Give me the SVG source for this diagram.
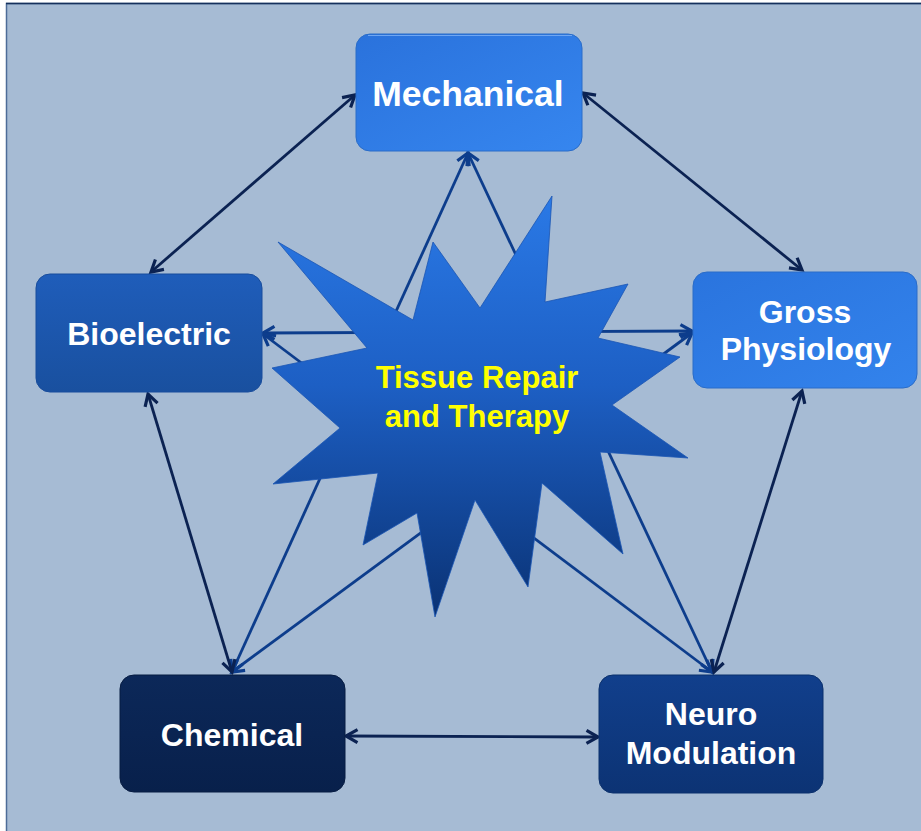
<svg xmlns="http://www.w3.org/2000/svg" width="921" height="831" viewBox="0 0 921 831">
<defs>
<style>
.lbl{font-family:"Liberation Sans",Arial,Helvetica,sans-serif;font-weight:bold;fill:#ffffff;text-anchor:middle;font-size:32px;}
.big{font-size:35.5px;}
.star-lbl{font-family:"Liberation Sans",Arial,Helvetica,sans-serif;font-weight:bold;fill:#ffff00;text-anchor:middle;font-size:31px;}
.outer{stroke:#0b2252;stroke-width:2.8;fill:none;marker-start:url(#arrD);marker-end:url(#arrD);}
.inner{stroke:#0d3d8c;stroke-width:2.8;fill:none;marker-start:url(#arrB);marker-end:url(#arrB);}
.box{stroke-width:1;}
</style>
<marker id="arrD" markerUnits="userSpaceOnUse" markerWidth="18" markerHeight="18" viewBox="-14 -9 18 18" refX="0" refY="0" orient="auto-start-reverse">
<path d="M-11.5,-6.5 L0,0 L-11.5,6.5" fill="none" stroke="#0b2252" stroke-width="3.2" stroke-linejoin="miter"/>
</marker>
<marker id="arrB" markerUnits="userSpaceOnUse" markerWidth="18" markerHeight="18" viewBox="-14 -9 18 18" refX="0" refY="0" orient="auto-start-reverse">
<path d="M-11.5,-6.5 L0,0 L-11.5,6.5" fill="none" stroke="#0d3d8c" stroke-width="3.2" stroke-linejoin="miter"/>
</marker>
<linearGradient id="gMech" x1="0" y1="0" x2="1" y2="1">
<stop offset="0" stop-color="#2a72dc"/>
<stop offset="1" stop-color="#3686ef"/>
</linearGradient>
<linearGradient id="gGross" x1="0" y1="0" x2="1" y2="1">
<stop offset="0" stop-color="#2a74de"/>
<stop offset="1" stop-color="#3383ec"/>
</linearGradient>
<linearGradient id="gBio" x1="0" y1="0" x2="0" y2="1">
<stop offset="0" stop-color="#1f5dba"/>
<stop offset="1" stop-color="#19509f"/>
</linearGradient>
<linearGradient id="gChem" x1="0" y1="0" x2="0" y2="1">
<stop offset="0" stop-color="#0c2859"/>
<stop offset="1" stop-color="#08204b"/>
</linearGradient>
<linearGradient id="gNeuro" x1="0" y1="0" x2="0" y2="1">
<stop offset="0" stop-color="#113f8c"/>
<stop offset="1" stop-color="#0c3374"/>
</linearGradient>
<linearGradient id="gStar" gradientUnits="userSpaceOnUse" x1="0" y1="196" x2="0" y2="617">
<stop offset="0" stop-color="#2a79e6"/>
<stop offset="0.45" stop-color="#1d5fc4"/>
<stop offset="1" stop-color="#0a3274"/>
</linearGradient>
</defs>

<rect x="0" y="0" width="921" height="831" fill="#ffffff"/>
<rect id="frame" x="6.5" y="3.5" width="930" height="840" fill="#a6bbd4" stroke="#4d6c98" stroke-width="1.5"/>
<line x1="6" y1="3.5" x2="921" y2="3.5" stroke="#15305c" stroke-width="1.5"/>

<g id="connectors">
<line class="inner" x1="468" y1="153" x2="232" y2="672"/>
<line class="inner" x1="468" y1="153" x2="712" y2="672"/>
<line class="inner" x1="263" y1="333" x2="692" y2="331"/>
<line class="inner" x1="263" y1="334" x2="712" y2="672"/>
<line class="inner" x1="692" y1="333" x2="232" y2="672"/>
<line class="outer" x1="355" y1="95" x2="151" y2="272"/>
<line class="outer" x1="583" y1="93" x2="802" y2="270"/>
<line class="outer" x1="148" y1="394" x2="232" y2="672"/>
<line class="outer" x1="802" y1="391" x2="714" y2="672"/>
<line class="outer" x1="346" y1="736" x2="598" y2="737"/>
</g>

<g id="star">
<polygon points="552,196 545,302 628,284 598,338 680,357 612,405 688,458 600,452 623,554 542,483 528,587 475,500 435,617 417,513 363,545 378,473 273,484 340,428 272,368 367,348 278,242 413,320 433,242 480,308" fill="url(#gStar)" stroke="#1a56b4" stroke-width="0.8" stroke-linejoin="miter"/>
<text class="star-lbl" x="477" y="388">Tissue Repair</text>
<text class="star-lbl" x="477" y="427">and Therapy</text>
</g>

<g id="mechanical">
<rect class="box" x="356" y="34" width="226" height="117" rx="14" fill="url(#gMech)" stroke="#2a6cc8"/>
<line x1="368" y1="35.5" x2="572" y2="35.5" stroke="#6fa6f2" stroke-width="1"/>
<text class="lbl big" x="468" y="106">Mechanical</text>
</g>

<g id="bioelectric">
<rect class="box" x="36" y="274" width="226" height="118" rx="14" fill="url(#gBio)" stroke="#184c9c"/>
<text class="lbl" x="149" y="345">Bioelectric</text>
</g>

<g id="gross-physiology">
<rect class="box" x="693" y="272" width="224" height="116" rx="14" fill="url(#gGross)" stroke="#2a6cc8"/>
<text class="lbl" x="805" y="323">Gross</text>
<text class="lbl" x="806" y="360">Physiology</text>
</g>

<g id="chemical">
<rect class="box" x="120" y="675" width="225" height="117" rx="14" fill="url(#gChem)" stroke="#071c42"/>
<text class="lbl" x="232" y="746">Chemical</text>
</g>

<g id="neuro-modulation">
<rect class="box" x="599" y="675" width="224" height="118" rx="14" fill="url(#gNeuro)" stroke="#0b306c"/>
<text class="lbl" x="711" y="725">Neuro</text>
<text class="lbl" x="711" y="764">Modulation</text>
</g>
</svg>
